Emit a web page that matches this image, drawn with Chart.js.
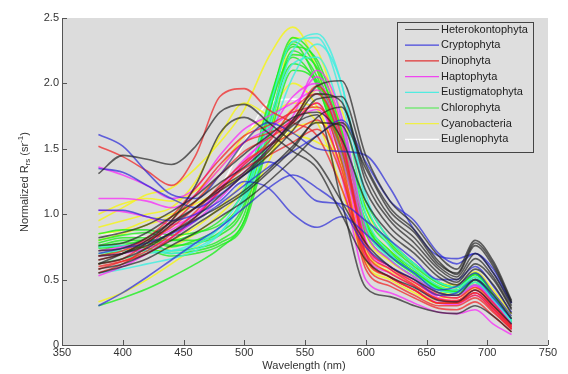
<!DOCTYPE html>
<html>
<head>
<meta charset="utf-8">
<script src="https://cdn.jsdelivr.net/npm/chart.js@4/dist/chart.umd.min.js"></script>
<style>
html,body{margin:0;padding:0;background:#fff;}
#c{display:block;}
</style>
</head>
<body>
<canvas id="c" width="568" height="374"></canvas>
<script>
const wavelengths = [380,400,420,440,460,480,500,520,540,560,580,600,620,640,660,675,690,705,720];
const classNames = ['Heterokontophyta','Cryptophyta','Dinophyta','Haptophyta','Eustigmatophyta','Chlorophyta','Cyanobacteria','Euglenophyta'];
const xTicks = [350,400,450,500,550,600,650,700,750];
const yTicks = [0,0.5,1,1.5,2,2.5];

const heterokontophyta = [
 [1.31,1.45,1.42,1.38,1.52,1.78,1.84,1.70,1.55,1.40,1.10,0.78,0.60,0.50,0.40,0.38,0.50,0.38,0.20],
 [0.62,0.70,0.80,0.95,1.22,1.62,1.74,1.62,1.48,1.35,1.00,0.65,0.52,0.44,0.34,0.33,0.42,0.30,0.16],
 [0.65,0.70,0.78,0.92,1.05,1.20,1.32,1.50,1.72,1.98,2.02,1.45,1.10,0.92,0.68,0.58,0.80,0.64,0.34],
 [0.72,0.74,0.82,0.94,1.05,1.18,1.30,1.45,1.64,1.88,1.90,1.38,1.05,0.88,0.64,0.54,0.76,0.60,0.32],
 [0.58,0.62,0.70,0.80,0.92,1.04,1.16,1.32,1.50,1.74,1.82,1.30,0.98,0.82,0.60,0.52,0.70,0.55,0.30],
 [0.76,0.78,0.86,0.98,1.10,1.24,1.36,1.52,1.70,1.92,1.86,1.25,0.95,0.78,0.58,0.50,0.66,0.52,0.28],
 [0.68,0.70,0.76,0.86,0.96,1.06,1.18,1.34,1.52,1.70,1.68,1.18,0.90,0.74,0.55,0.48,0.62,0.50,0.27],
 [0.82,0.86,0.92,1.02,1.14,1.30,1.46,1.60,1.74,1.78,1.58,1.10,0.85,0.70,0.52,0.46,0.58,0.46,0.24],
 [0.62,0.66,0.74,0.86,0.98,1.14,1.30,1.48,1.68,1.76,1.10,0.44,0.37,0.30,0.25,0.24,0.30,0.22,0.10],
 [0.55,0.60,0.66,0.76,0.86,0.98,1.10,1.25,1.42,1.60,1.70,1.35,1.02,0.86,0.62,0.55,0.78,0.62,0.33]
];
const cryptophyta = [
 [1.61,1.52,1.32,1.15,1.12,1.30,1.55,1.70,1.62,1.50,1.48,1.45,1.20,0.88,0.68,0.66,0.70,0.55,0.32],
 [1.35,1.32,1.22,1.12,1.05,1.15,1.30,1.40,1.28,1.10,1.08,0.95,0.80,0.65,0.50,0.50,0.60,0.45,0.25],
 [1.03,1.03,0.98,0.95,1.00,1.10,1.25,1.20,1.00,0.90,0.98,0.85,0.68,0.55,0.42,0.45,0.55,0.40,0.22],
 [0.30,0.40,0.52,0.65,0.78,0.90,1.05,1.20,1.30,1.20,1.05,0.75,0.60,0.50,0.38,0.40,0.50,0.36,0.20],
 [0.70,0.74,0.78,0.85,0.95,1.08,1.22,1.36,1.48,1.60,1.72,1.40,1.10,0.95,0.70,0.62,0.70,0.58,0.32]
];
const dinophyta = [
 [1.52,1.44,1.33,1.22,1.45,1.90,1.96,1.80,1.70,1.60,1.20,0.70,0.55,0.45,0.35,0.33,0.40,0.28,0.14],
 [0.55,0.62,0.75,0.92,1.10,1.30,1.48,1.58,1.70,1.85,1.40,0.62,0.48,0.38,0.30,0.30,0.36,0.25,0.12],
 [0.62,0.66,0.78,0.95,1.15,1.38,1.55,1.62,1.72,1.98,1.60,0.70,0.52,0.42,0.32,0.32,0.38,0.26,0.12],
 [0.58,0.64,0.72,0.85,1.02,1.22,1.40,1.52,1.62,1.72,1.35,0.58,0.45,0.36,0.28,0.27,0.33,0.22,0.10],
 [0.68,0.72,0.82,0.98,1.20,1.42,1.60,1.68,1.78,1.82,1.50,0.75,0.58,0.46,0.35,0.34,0.42,0.30,0.14],
 [0.65,0.70,0.80,0.90,1.05,1.20,1.35,1.45,1.55,1.65,1.30,0.66,0.52,0.42,0.32,0.32,0.40,0.28,0.13],
 [0.60,0.64,0.70,0.82,0.98,1.18,1.38,1.55,1.80,1.92,1.55,0.78,0.60,0.48,0.38,0.36,0.44,0.32,0.15]
];
const haptophyta = [
 [1.36,1.30,1.22,1.12,1.20,1.45,1.65,1.75,1.85,1.95,1.55,0.70,0.55,0.45,0.34,0.33,0.40,0.28,0.13],
 [1.12,1.12,1.10,1.05,1.15,1.35,1.55,1.65,1.80,2.05,1.70,0.80,0.60,0.50,0.38,0.36,0.45,0.32,0.15],
 [1.03,1.02,0.98,0.92,1.00,1.20,1.42,1.58,1.72,1.80,1.45,0.68,0.52,0.42,0.32,0.31,0.38,0.27,0.12],
 [0.53,0.60,0.70,0.82,0.98,1.18,1.38,1.52,1.70,1.85,1.30,0.50,0.40,0.32,0.25,0.24,0.27,0.16,0.08],
 [0.68,0.70,0.74,0.82,0.95,1.12,1.32,1.50,1.75,2.10,1.75,0.88,0.65,0.52,0.40,0.38,0.46,0.33,0.16],
 [0.72,0.75,0.80,0.88,1.00,1.18,1.40,1.62,1.90,2.00,1.60,0.78,0.58,0.48,0.36,0.34,0.42,0.30,0.14]
];
const eustigmatophyta = [
 [0.55,0.58,0.62,0.66,0.72,0.85,1.15,1.70,2.25,2.38,2.00,1.10,0.75,0.58,0.45,0.42,0.50,0.35,0.18],
 [0.75,0.76,0.76,0.72,0.76,0.90,1.20,1.80,2.32,2.35,1.90,1.00,0.70,0.55,0.42,0.40,0.48,0.34,0.17],
 [0.70,0.72,0.72,0.70,0.74,0.86,1.12,1.65,2.15,2.20,1.75,0.92,0.66,0.52,0.40,0.38,0.46,0.32,0.16],
 [0.62,0.66,0.70,0.72,0.78,0.90,1.10,1.55,2.05,2.30,2.00,1.15,0.80,0.62,0.48,0.44,0.52,0.37,0.19]
];
const chlorophyta = [
 [0.75,0.78,0.78,0.72,0.74,0.80,1.00,1.75,2.32,2.10,1.50,0.92,0.70,0.56,0.44,0.42,0.50,0.34,0.17],
 [0.78,0.82,0.82,0.76,0.78,0.84,1.05,1.80,2.35,2.15,1.58,0.95,0.72,0.58,0.45,0.42,0.52,0.36,0.18],
 [0.72,0.76,0.74,0.70,0.72,0.78,0.95,1.65,2.25,2.05,1.50,0.90,0.68,0.54,0.42,0.40,0.48,0.33,0.16],
 [0.80,0.84,0.86,0.80,0.80,0.86,1.08,1.82,2.30,2.00,1.42,0.85,0.65,0.52,0.40,0.38,0.46,0.32,0.16],
 [0.85,0.88,0.88,0.84,0.86,0.92,1.12,1.78,2.20,1.98,1.45,0.88,0.68,0.55,0.43,0.41,0.50,0.35,0.17],
 [0.30,0.36,0.43,0.52,0.62,0.74,0.95,1.60,2.22,2.12,1.62,1.00,0.76,0.60,0.47,0.44,0.54,0.38,0.19],
 [0.76,0.80,0.80,0.75,0.80,0.90,1.15,1.85,2.28,2.18,1.65,1.05,0.78,0.62,0.48,0.44,0.55,0.38,0.20],
 [0.68,0.72,0.72,0.68,0.70,0.76,0.92,1.55,2.10,2.00,1.48,0.92,0.70,0.56,0.44,0.41,0.50,0.34,0.17],
 [0.74,0.76,0.80,0.80,0.85,0.95,1.18,1.70,2.15,2.02,1.60,1.10,0.80,0.62,0.48,0.44,0.54,0.38,0.19]
];
const cyanobacteria = [
 [0.95,1.05,1.15,1.20,1.35,1.55,1.80,2.20,2.43,2.10,1.40,0.72,0.58,0.48,0.38,0.38,0.48,0.34,0.18],
 [1.00,1.08,1.12,1.10,1.18,1.35,1.60,1.75,1.85,1.80,1.30,0.65,0.52,0.42,0.34,0.34,0.44,0.30,0.16],
 [0.33,0.40,0.50,0.62,0.75,0.90,1.10,1.40,1.80,1.70,1.20,0.62,0.50,0.40,0.32,0.33,0.42,0.30,0.15],
 [0.80,0.85,0.92,0.98,1.10,1.30,1.55,1.75,2.00,1.82,1.35,0.70,0.56,0.46,0.36,0.36,0.46,0.32,0.16],
 [0.62,0.66,0.70,0.75,0.85,1.00,1.20,1.55,2.35,2.25,1.65,0.85,0.64,0.52,0.40,0.40,0.50,0.36,0.20],
 [0.90,0.95,1.00,1.05,1.25,1.60,1.85,1.75,1.62,1.55,1.40,0.78,0.60,0.50,0.40,0.40,0.50,0.36,0.19],
 [0.70,0.72,0.76,0.80,0.90,1.05,1.25,1.45,1.65,1.70,1.55,0.95,0.72,0.58,0.45,0.44,0.55,0.40,0.22],
 [0.85,0.88,0.95,1.00,1.08,1.18,1.32,1.48,1.70,1.95,1.80,1.05,0.78,0.62,0.48,0.46,0.56,0.42,0.24]
];
const euglenophyta = [
 [0.72,0.76,0.80,0.86,0.98,1.20,1.55,1.85,1.88,1.80,1.35,0.70,0.56,0.46,0.36,0.35,0.44,0.30,0.15],
 [0.85,0.85,0.82,0.80,0.90,1.10,1.30,1.50,1.65,1.70,1.40,0.75,0.58,0.48,0.37,0.36,0.45,0.32,0.16]
];

const groups = [heterokontophyta,cryptophyta,dinophyta,haptophyta,eustigmatophyta,chlorophyta,cyanobacteria,euglenophyta];
const lineColors = ['rgba(35,35,35,0.7)','rgba(40,40,215,0.7)','rgba(240,40,40,0.75)','rgba(250,40,250,0.75)','rgba(60,240,225,0.8)','rgba(30,240,30,0.8)','rgba(245,245,30,0.85)','rgba(255,255,255,0.9)'];
const legendColors = ['#555555','#4646dc','#e03434','#f046f0','#50ece0','#46ec46','#f0f046','#ffffff'];

const datasets = [];
groups.forEach((g, gi) => {
  g.forEach(vals => {
    datasets.push({
      label: classNames[gi],
      data: wavelengths.map((w, i) => ({x: w, y: vals[i]})),
      borderColor: lineColors[gi],
      borderWidth: 1.6,
      pointRadius: 0,
      fill: false,
      cubicInterpolationMode: 'monotone'
    });
  });
});

const FONT = '"Liberation Sans", Arial, sans-serif';

const decor = {
  id: 'decor',
  beforeDraw(chart) {
    const {ctx, chartArea: a} = chart;
    ctx.save();
    ctx.fillStyle = '#dcdcdc';
    ctx.fillRect(a.left, a.top, a.right - a.left, a.bottom - a.top);
    ctx.restore();
  },
  afterDraw(chart) {
    const {ctx, chartArea: a, scales: {x, y}} = chart;
    ctx.save();
    // axes
    ctx.strokeStyle = '#555';
    ctx.lineWidth = 1;
    ctx.beginPath();
    ctx.moveTo(a.left + 0.5, a.top);
    ctx.lineTo(a.left + 0.5, a.bottom + 0.5);
    ctx.lineTo(a.right, a.bottom + 0.5);
    ctx.stroke();
    // inward ticks
    ctx.beginPath();
    xTicks.forEach(v => {
      const px = Math.round(x.getPixelForValue(v)) + 0.5;
      ctx.moveTo(px, a.bottom);
      ctx.lineTo(px, a.bottom - 5);
    });
    yTicks.forEach(v => {
      const py = Math.round(y.getPixelForValue(v)) + 0.5;
      ctx.moveTo(a.left, py);
      ctx.lineTo(a.left + 5, py);
    });
    ctx.stroke();

    // legend
    const lx = 397.5, ly = 22.5, lw = 136, lh = 130;
    ctx.fillStyle = '#dedede';
    ctx.fillRect(lx, ly, lw, lh);
    ctx.strokeStyle = '#444';
    ctx.strokeRect(lx, ly, lw, lh);
    ctx.font = '11px ' + FONT;
    ctx.textBaseline = 'middle';
    ctx.textAlign = 'left';
    classNames.forEach((n, i) => {
      const yy = 29.5 + i * 15.7;
      ctx.strokeStyle = legendColors[i];
      ctx.lineWidth = 1.2;
      ctx.beginPath();
      ctx.moveTo(405, yy);
      ctx.lineTo(439, yy);
      ctx.stroke();
      ctx.fillStyle = '#222';
      ctx.fillText(n, 441, yy);
    });

    // x title
    ctx.fillStyle = '#333';
    ctx.font = '11px ' + FONT;
    ctx.textAlign = 'center';
    ctx.textBaseline = 'middle';
    ctx.fillText('Wavelength (nm)', 304, 366);

    // y title with sub/superscript
    ctx.translate(25, 182);
    ctx.rotate(-Math.PI / 2);
    const big = '11px ' + FONT, small = '8px ' + FONT;
    const parts = [
      {t: 'Normalized R', f: big, dy: 0},
      {t: 'rs', f: small, dy: 3},
      {t: ' (sr', f: big, dy: 0},
      {t: '-1', f: small, dy: -4},
      {t: ')', f: big, dy: 0}
    ];
    let total = 0;
    parts.forEach(p => { ctx.font = p.f; p.w = ctx.measureText(p.t).width; total += p.w; });
    let cx = -total / 2;
    ctx.textAlign = 'left';
    parts.forEach(p => { ctx.font = p.f; ctx.fillText(p.t, cx, p.dy); cx += p.w; });
    ctx.restore();
  }
};

new Chart(document.getElementById('c'), {
  type: 'line',
  data: {datasets},
  options: {
    responsive: false,
    animation: false,
    layout: {padding: {left: 0, right: 20, top: 18, bottom: 0}},
    plugins: {legend: {display: false}, tooltip: {enabled: false}},
    scales: {
      x: {
        type: 'linear', min: 350, max: 750,
        afterBuildTicks(s) { s.ticks = xTicks.map(v => ({value: v})); },
        ticks: {color: '#333', font: {size: 11, family: FONT}, padding: 1, maxRotation: 0, autoSkip: false},
        grid: {display: false, drawTicks: false},
        border: {display: false},
        afterFit(s) { s.height = 29; }
      },
      y: {
        type: 'linear', min: 0, max: 2.5,
        afterBuildTicks(s) { s.ticks = yTicks.map(v => ({value: v})); },
        ticks: {color: '#333', font: {size: 11, family: FONT}, padding: 3, autoSkip: false},
        grid: {display: false, drawTicks: false},
        border: {display: false},
        afterFit(s) { s.width = 62; }
      }
    }
  },
  plugins: [decor]
});
</script>
</body>
</html>
